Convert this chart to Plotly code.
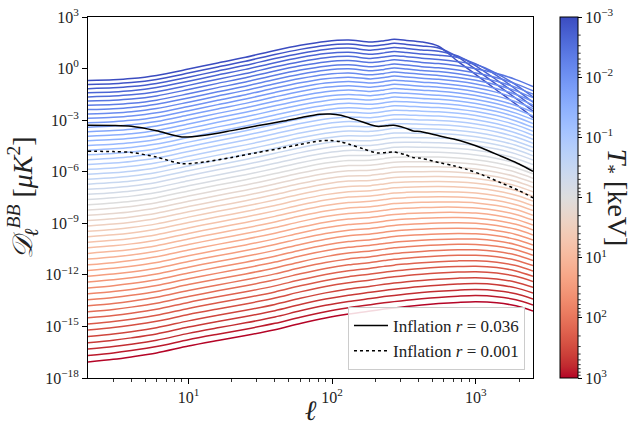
import math
import plotly.graph_objects as go

# ---------------- data (log10 values) ----------------
ell = [2, 3, 4, 6, 10, 16, 25, 40, 60, 90, 130, 185, 230, 270, 330, 420,
       550, 750, 1000, 1400, 1900, 2500]

# log10 D at ell=2 for each T curve (top: T=1e-3 keV, bottom: T=1e3 keV)
start_vals = [-0.700, -0.933, -1.169, -1.407, -1.648, -1.891, -2.138, -2.387,
              -2.638, -2.892, -3.149, -3.408, -3.670, -3.935, -4.202, -4.472,
              -4.745, -5.020, -5.298, -5.579, -5.862, -6.148, -6.436, -6.727,
              -7.021, -7.318, -7.617, -7.918, -8.223, -8.530, -8.839, -9.151,
              -9.466, -9.784, -10.104, -10.427, -10.752, -11.080, -11.411,
              -11.745, -12.080, -12.419, -12.760, -13.103, -13.448, -13.796,
              -14.146, -14.499, -14.853, -15.210, -15.586, -15.951, -16.319,
              -16.689, -17.062]

# rise above the ell=2 value, for a blue, a grey and a red curve
shape_blue = [0, 0.05, 0.12, 0.30, 0.67, 1.03, 1.36, 1.75, 2.05, 2.28, 2.36,
              2.24, 2.32, 2.40, 2.34, 2.25, 2.18, 2.05, 1.88, 1.60, 1.25, 0.85]
shape_grey = [0, 0.10, 0.20, 0.41, 0.80, 1.14, 1.45, 1.81, 2.14, 2.42, 2.57,
              2.58, 2.68, 2.76, 2.78, 2.78, 2.77, 2.72, 2.62, 2.42, 2.15, 1.80]
shape_red = [0, 0.15, 0.29, 0.52, 0.92, 1.24, 1.53, 1.87, 2.23, 2.55, 2.78,
             2.96, 3.07, 3.14, 3.22, 3.31, 3.39, 3.46, 3.50, 3.44, 3.26, 2.96]

# position of each curve between the shapes (0 = blue, 1 = grey, 2 = red)
shape_mix = [0.00, 0.00, 0.00, 0.00, 0.00, 0.00, 0.00, 0.05, 0.10, 0.15, 0.20,
             0.25, 0.30, 0.35, 0.40, 0.45, 0.50, 0.55, 0.60, 0.65, 0.70, 0.75,
             0.80, 0.85, 0.90, 0.93, 0.96, 1.00, 1.04, 1.08, 1.12, 1.16, 1.20,
             1.24, 1.28, 1.32, 1.36, 1.40, 1.44, 1.48, 1.52, 1.56, 1.60, 1.64,
             1.68, 1.72, 1.76, 1.80, 1.84, 1.88, 1.91, 1.94, 1.96, 1.98, 2.00]

# extra high-ell fall of the first (coldest) curves
cutoff_drop = [
    [0, 0, 0, 0, 0, 0, 0, 0, 0, 0, 0, 0, 0, 0, 0, 0, -0.18, -0.93, -1.53, -2.16, -2.62, -3.00],
    [0, 0, 0, 0, 0, 0, 0, 0, 0, 0, 0, 0, 0, 0, 0, 0, -0.05, -0.45, -1.00, -1.60, -2.05, -2.40],
    [0, 0, 0, 0, 0, 0, 0, 0, 0, 0, 0, 0, 0, 0, 0, 0, 0.00, -0.15, -0.55, -1.10, -1.55, -1.90],
    [0, 0, 0, 0, 0, 0, 0, 0, 0, 0, 0, 0, 0, 0, 0, 0, 0.00, 0.00, -0.20, -0.60, -1.05, -1.40],
    [0, 0, 0, 0, 0, 0, 0, 0, 0, 0, 0, 0, 0, 0, 0, 0, 0.00, 0.00, 0.00, -0.25, -0.55, -0.85],
]

# inflationary B-modes
infl_ell = [2, 3, 4, 6, 9, 13, 20, 30, 45, 60, 82, 97, 115, 133, 165, 205,
            240, 268, 320, 367, 410, 460, 570, 700, 876, 1100, 1500, 2000, 2500]
infl_r036 = [-3.30, -3.31, -3.36, -3.62, -3.98, -3.88, -3.61, -3.33, -3.07,
             -2.86, -2.66, -2.64, -2.71, -2.87, -3.12, -3.36, -3.33, -3.30,
             -3.45, -3.63, -3.66, -3.75, -3.94, -4.10, -4.33, -4.62, -5.10,
             -5.55, -5.98]
infl_r001 = [-4.81, -4.83, -4.88, -5.15, -5.53, -5.43, -5.17, -4.89, -4.62,
             -4.41, -4.21, -4.19, -4.26, -4.42, -4.67, -4.91, -4.88, -4.85,
             -5.00, -5.18, -5.21, -5.30, -5.49, -5.65, -5.88, -6.17, -6.65,
             -7.10, -7.52]

cbar_tick_vals = [3, 2, 1, 0, -1, -2, -3]          # -log10(T / keV)
cbar_tick_text = ["10<sup>\u22123</sup>", "10<sup>\u22122</sup>",
                  "10<sup>\u22121</sup>", "1", "10<sup>1</sup>",
                  "10<sup>2</sup>", "10<sup>3</sup>"]
y_tick_vals = [1e3, 1e0, 1e-3, 1e-6, 1e-9, 1e-12, 1e-15, 1e-18]
y_tick_text = ["10<sup>3</sup>", "10<sup>0</sup>", "10<sup>\u22123</sup>",
               "10<sup>\u22126</sup>", "10<sup>\u22129</sup>",
               "10<sup>\u221212</sup>", "10<sup>\u221215</sup>",
               "10<sup>\u221218</sup>"]
x_tick_vals = [10, 100, 1000]
x_tick_text = ["10<sup>1</sup>", "10<sup>2</sup>", "10<sup>3</sup>"]
x_minor_vals = [3, 4, 5, 6, 7, 8, 9, 20, 30, 40, 50, 60, 70, 80, 90,
                200, 300, 400, 500, 600, 700, 800, 900, 2000]

# matplotlib "coolwarm"
coolwarm = [
    (59, 76, 192), (68, 90, 204), (77, 104, 215), (87, 117, 225), (98, 130, 234),
    (108, 142, 241), (119, 154, 247), (130, 165, 251), (141, 176, 254),
    (152, 185, 255), (163, 194, 255), (174, 201, 253), (184, 208, 249),
    (194, 213, 244), (204, 217, 238), (213, 219, 230), (221, 221, 221),
    (229, 216, 209), (236, 211, 197), (241, 204, 184), (245, 196, 173),
    (247, 187, 160), (247, 177, 148), (247, 166, 135), (244, 154, 123),
    (241, 141, 111), (236, 127, 99), (229, 112, 88), (222, 96, 77),
    (213, 80, 66), (203, 62, 56), (192, 40, 47), (180, 4, 38)]


def cmap(f):
    f = min(max(f, 0.0), 1.0) * (len(coolwarm) - 1)
    i = min(int(f), len(coolwarm) - 2)
    t = f - i
    a, b = coolwarm[i], coolwarm[i + 1]
    c = [round(a[k] + (b[k] - a[k]) * t) for k in range(3)]
    return "rgb(%d,%d,%d)" % tuple(c)


FONT = "Liberation Serif"
W, H = 635, 426
ML, MR, MT, MB = 88, 102, 17, 48
PW, PH = W - ML - MR, H - MT - MB
CB_X, CB_W = 1.061, 18

fig = go.Figure()

n = len(start_vals)
for i in range(n):
    m = shape_mix[i]
    if m <= 1:
        sh = [(1 - m) * b + m * g for b, g in zip(shape_blue, shape_grey)]
    else:
        w = m - 1
        sh = [(1 - w) * g + w * r for g, r in zip(shape_grey, shape_red)]
    drop = cutoff_drop[i] if i < len(cutoff_drop) else [0] * len(ell)
    yv = [10 ** (start_vals[i] + s + d) for s, d in zip(sh, drop)]
    fig.add_trace(go.Scatter(
        x=ell, y=yv, mode="lines", showlegend=False, hoverinfo="skip",
        line=dict(color=cmap(i / (n - 1)), width=1.5, shape="spline", smoothing=0.8)))

fig.add_trace(go.Scatter(
    x=infl_ell, y=[10 ** v for v in infl_r036], mode="lines",
    name="Inflation <i>r</i> = 0.036",
    line=dict(color="black", width=1.5, shape="spline", smoothing=0.8)))
fig.add_trace(go.Scatter(
    x=infl_ell, y=[10 ** v for v in infl_r001], mode="lines",
    name="Inflation <i>r</i> = 0.001",
    line=dict(color="black", width=1.5, dash="dot", shape="spline", smoothing=0.8)))

# colour bar
cs = [[k / (len(coolwarm) - 1), "rgb(%d,%d,%d)" % coolwarm[len(coolwarm) - 1 - k]]
      for k in range(len(coolwarm))]
fig.add_trace(go.Scatter(
    x=[None], y=[None], mode="markers", showlegend=False, hoverinfo="skip",
    marker=dict(color=[0], colorscale=cs, cmin=-3, cmax=3, showscale=True,
                colorbar=dict(
                    x=CB_X, xanchor="left", xpad=0, ypad=0, y=0.5, yanchor="middle",
                    len=1, lenmode="fraction", thickness=CB_W, thicknessmode="pixels",
                    outlinecolor="black", outlinewidth=1,
                    tickmode="array", tickvals=cbar_tick_vals, ticktext=cbar_tick_text,
                    ticks="outside", ticklen=4, tickwidth=1, tickcolor="black",
                    tickfont=dict(family=FONT, size=16, color="#222")))))

# minor ticks of the logarithmic colour bar
shapes = []
cb_right = CB_X + CB_W / PW
for d in range(-3, 3):
    for k in range(2, 10):
        v = -(d + math.log10(k))
        yp = (v + 3) / 6
        shapes.append(dict(type="line", xref="paper", yref="paper",
                           x0=cb_right, x1=cb_right + 2.5 / PW, y0=yp, y1=yp,
                           line=dict(color="black", width=0.8)))

axis_common = dict(showline=True, linecolor="black", linewidth=1, mirror=True,
                   showgrid=False, zeroline=False, ticks="outside", automargin=False,
                   tickcolor="black", tickwidth=1, ticklen=5,
                   tickfont=dict(family=FONT, size=16, color="#222"))

fig.update_xaxes(type="log", range=[0.30103, 3.39794], tickmode="array",
                 tickvals=x_tick_vals, ticktext=x_tick_text,
                 minor=dict(tickvals=x_minor_vals, ticks="outside", ticklen=3,
                            tickcolor="black", tickwidth=0.8),
                 title=dict(text="<i>\u2113</i>", font=dict(family=FONT, size=28, color="#222"),
                            standoff=2),
                 **axis_common)
fig.update_yaxes(type="log", range=[-18, 3], tickmode="array",
                 tickvals=y_tick_vals, ticktext=y_tick_text,
                 title=dict(text="<i>\U0001D49F</i><sub><i>\u2113</i></sub><sup><i>BB</i></sup> [<i>\u03bcK</i><sup>2</sup>]",
                            font=dict(family=FONT, size=28, color="#222"), standoff=4),
                 **axis_common)

fig.update_layout(
    width=W, height=H,
    margin=dict(l=ML, r=MR, t=MT, b=MB),
    paper_bgcolor="white", plot_bgcolor="white",
    font=dict(family=FONT, color="#222"),
    shapes=shapes,
    legend=dict(x=0.982, y=0.022, xanchor="right", yanchor="bottom",
                bgcolor="rgba(255,255,255,0.85)", bordercolor="#cccccc", borderwidth=1,
                font=dict(family=FONT, size=17, color="#222"),
                itemwidth=34, tracegroupgap=2),
    annotations=[dict(text="<i>T</i><sub>*</sub> [keV]", xref="paper", yref="paper",
                      x=1.186, y=0.5, xanchor="center", yanchor="middle",
                      textangle=90, showarrow=False,
                      font=dict(family=FONT, size=28, color="#222"))],
)

fig.write_html("out.html", config={"displayModeBar": False, "staticPlot": True},
               post_script="document.body.style.margin='0';document.body.style.padding='0';")
